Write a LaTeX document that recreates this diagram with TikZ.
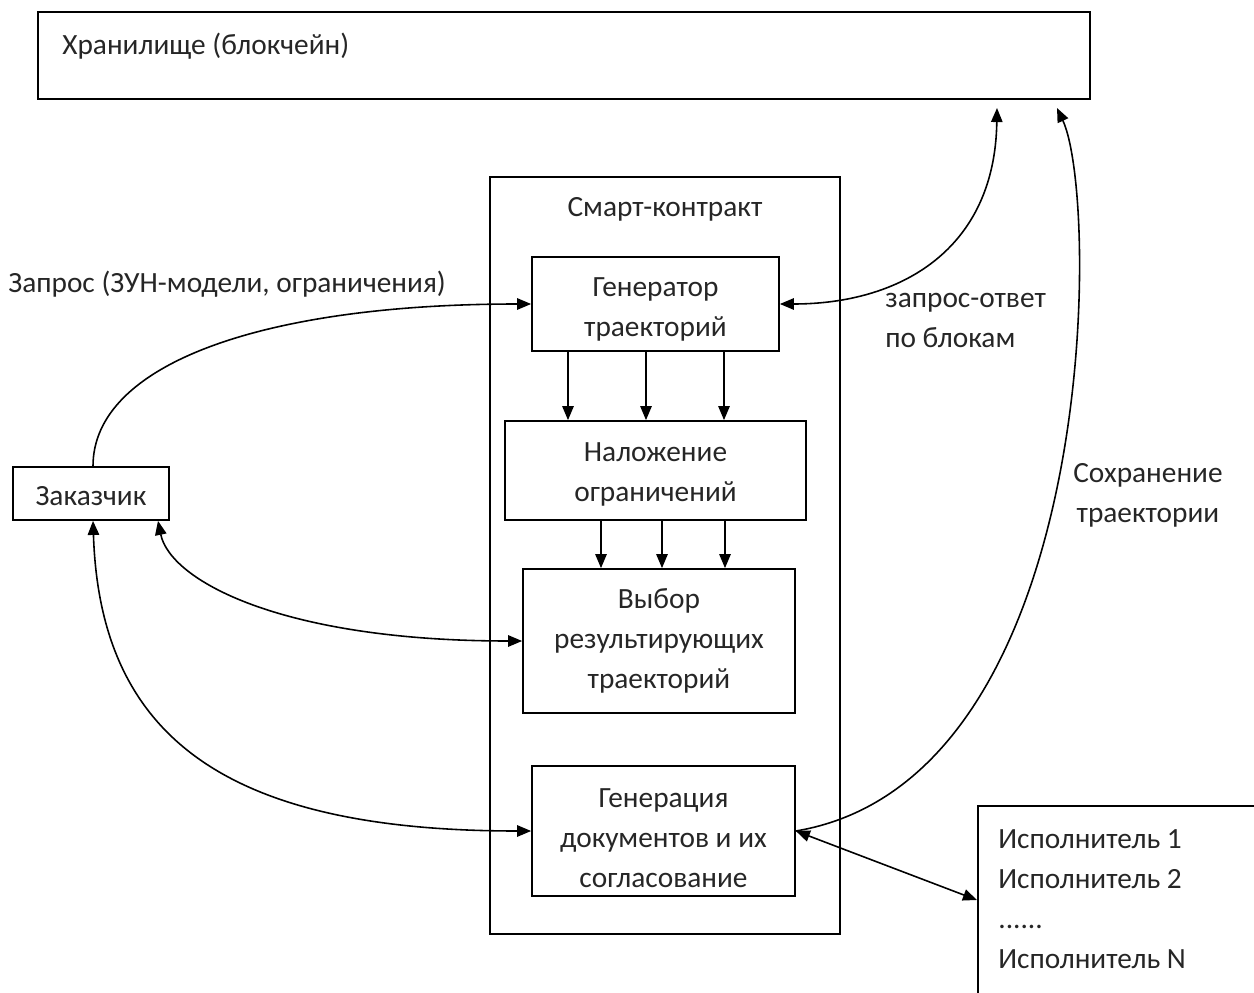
\documentclass[tikz,border=0pt]{standalone}
\usepackage{fontspec}
\setmainfont{Carlito}
\usepackage{tikz}
\usetikzlibrary{arrows.meta}

\begin{document}
\begin{tikzpicture}[
        x=0.02cm, y=-0.02cm,
        box/.style={rectangle, draw=black, line width=1pt, inner sep=0pt},
        lbl/.style={inner sep=0pt, align=center, text=black!85, font=\fontsize{16.7}{22.76}\selectfont},
        arrow/.style={line width=0.9pt, -{Triangle[length=8pt, width=6.5pt]}},
        darrow/.style={line width=0.9pt, {Triangle[length=8pt, width=6.5pt]}-{Triangle[length=8pt, width=6.5pt]}}
    ]
        \clip (0,0) rectangle (1254,993);

        % Storage
        \node (store) [box, minimum width=21.04cm, minimum height=1.74cm] at (564,55.5) {};
        \node (storetxt) [lbl, anchor=west] at (62,46) {Хранилище (блокчейн)};
        \coordinate (storeA) at (997,108);
        \coordinate (storeB) at (1057,108);

        % Smart contract
        \node (sc) [box, minimum width=7cm, minimum height=15.14cm] at (665,555.5) {};
        \node (sctitle) [lbl] at (665,209) {Смарт-контракт};
        \node (gen) [box, minimum width=4.94cm, minimum height=1.88cm] at (655.5,304) {};
        \node (gentxt) [lbl] at (655.5,309) {Генератор\\траекторий};
        \node (over) [box, minimum width=6.02cm, minimum height=1.98cm] at (655.5,470.5) {};
        \node (overtxt) [lbl] at (655.5,474) {Наложение\\ограничений};
        \node (choice) [box, minimum width=5.44cm, minimum height=2.88cm] at (659,641) {};
        \node (choicetxt) [lbl] at (659,641) {Выбор\\результирующих\\траекторий};
        \node (docs) [box, minimum width=5.26cm, minimum height=2.6cm] at (663.5,831) {};
        \node (docstxt) [lbl] at (663.5,838) {Генерация\\документов и их\\согласование};

        % Customer and executors
        \node (cust) [box, minimum width=3.12cm, minimum height=1.06cm] at (91,493.5) {};
        \node (custtxt) [lbl] at (91,496) {Заказчик};
        \node (exec) [box, anchor=north west, minimum width=7cm, minimum height=6cm] at (977,805) {};
        \node (exectxt) [lbl, anchor=west, align=left, font=\fontsize{16.7}{40\dimexpr 0.02cm\relax}\selectfont] at (998,899) {Исполнитель 1\\Исполнитель 2\\......\\Исполнитель N};

        % Labels
        \node (zunlbl) [lbl, anchor=west] at (8,284) {Запрос (ЗУН-модели, ограничения)};
        \node (qalbl) [lbl, anchor=west, align=left] at (885,320) {запрос-ответ\\по блокам};
        \node (savelbl) [lbl] at (1148,495) {Сохранение\\траектории};

        % Inner flow
        \foreach \x in {568,646,724}
            \draw [arrow] (gen.south -| \x,0) -- (over.north -| \x,0);
        \foreach \x in {601,662,725}
            \draw [arrow] (over.south -| \x,0) -- (choice.north -| \x,0);

        % Customer links
        \draw [arrow] (cust.north -| 93,0) .. controls (93,365) and (260,304) .. (gen.west);
        \draw [darrow] (cust.south -| 158,0) .. controls (170,580) and (280,641) .. (choice.west);
        \draw [darrow] (cust.south -| 93,0) .. controls (100,740) and (230,831) .. (docs.west);

        % Storage links
        \draw [darrow] (gen.east) .. controls (900,304) and (995,250) .. (storeA);
        \draw [arrow] (docs.east) .. controls (1100,780) and (1100,200) .. (storeB);
        \draw [darrow] (docs.east) -- (exec.west |- 0,900);
    \end{tikzpicture}
\end{document}
